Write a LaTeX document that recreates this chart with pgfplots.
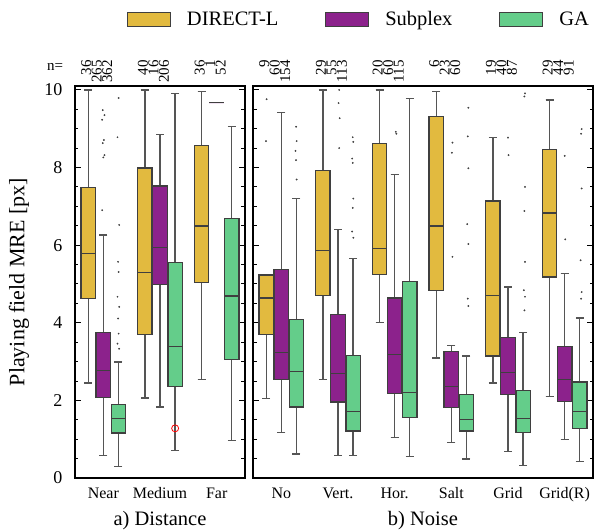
\documentclass[border=0pt]{standalone}
\usepackage{fontspec}
\setmainfont{Liberation Serif}
\usepackage{pgfplots}
\pgfplotsset{compat=1.18}
\usepgfplotslibrary{statistics}

\definecolor{cdir}{HTML}{E2BA3F}
\definecolor{csub}{HTML}{8C228C}
\definecolor{cga}{HTML}{64CD8A}
\definecolor{cedge}{HTML}{3F3F3F}
\definecolor{cwhisk}{HTML}{555555}

\tikzset{nlab/.style={rotate=90, anchor=east, inner sep=0pt, font=\fontsize{15}{15}\selectfont}}

\pgfplotsset{
  mre/.style={
    scale only axis, height=392pt, clip=false,
    ymin=0, ymax=10.1, xmin=-0.5,
    ytick={0,2,...,10}, minor ytick={0,0.5,...,10},
    tick align=inside, ytick pos=both,
    major tick length=6pt, minor tick length=3.5pt,
    every tick/.style={black, line width=0.9pt},
    axis line style={line width=1.3pt},
    xtick style={draw=none},
    /pgf/number format/assume math mode=true,
    yticklabel style={font=\fontsize{18}{18}\selectfont, xshift=-9pt},
    xticklabel style={font=\fontsize{16}{16}\selectfont, anchor=base, yshift=-20pt},
    xlabel style={font=\fontsize{20.5}{20.5}\selectfont, at={(axis description cs:0.5,0)}, anchor=base, yshift=-47pt},
    boxplot/draw direction=y,
    boxplot/box extend=0.255,
    boxplot/whisker extend=0.14,
    boxplot/every box/.style={draw=cedge, line width=1.3pt},
    boxplot/every whisker/.style={cwhisk, line width=1.3pt},
    boxplot/every median/.style={cedge, line width=1.3pt},
  },
  dbox/.style={forget plot, fill=cdir, draw=cedge},
  sbox/.style={forget plot, fill=csub, draw=cedge},
  gbox/.style={forget plot, fill=cga, draw=cedge},
  dots/.style={forget plot, only marks, mark=*, mark size=0.7pt, black!75, mark options={draw=none, fill=black!70}},
}

% a few individual samples that stand clear of the boxes
\pgfplotstableread{
x y
-0.01 9.48
0.02 9.35
-0.02 9.23
0.01 8.71
-0.01 8.63
0.02 8.32
0.00 8.26
-0.02 6.90
0.27 9.79
0.25 8.78
0.28 6.52
0.26 5.57
0.27 5.31
0.25 4.67
0.28 4.41
0.26 4.11
0.27 3.72
0.25 3.46
0.28 3.33
}\dotsdist
\pgfplotstableread{
x y
-0.26 9.76
-0.27 8.68
0.26 9.05
0.27 8.68
0.25 8.43
0.26 8.19
0.27 7.69
1.02 10.0
1.01 9.66
1.03 9.27
1.02 8.50
1.26 8.78
1.27 8.66
1.25 8.23
1.26 8.12
1.27 7.20
1.26 6.96
1.25 6.35
1.27 6.19
2.02 8.92
2.03 8.87
3.02 8.64
3.01 8.38
3.02 5.70
3.30 9.54
3.29 8.80
3.30 7.98
3.28 6.54
3.30 6.03
3.29 4.62
3.30 4.43
4.00 8.77
4.01 8.32
4.30 9.91
4.29 9.83
4.30 7.50
4.29 6.88
4.30 5.57
4.28 4.84
4.30 4.67
4.29 4.32
5.00 8.30
5.01 6.15
5.30 8.99
5.29 8.87
5.30 7.46
5.28 5.61
5.30 4.79
5.29 4.62
}\dotsnoise

\begin{document}
\begin{tikzpicture}
\useasboundingbox (0pt,0pt) rectangle (595pt,-530pt);

% a) Distance
\begin{axis}[mre, at={(75pt,-478pt)}, anchor=south west, width=170pt,
  xmax=2.5, xtick={0,1,2}, xticklabels={Near,Medium,Far},
  xlabel={a) Distance},
  ylabel={Playing field MRE [px]},
  ylabel style={font=\fontsize{22}{22}\selectfont, at={(axis description cs:-0.33,0.5)}, anchor=center},
]
% Near
\addplot[dbox, boxplot prepared={draw position=-0.267, lower whisker=2.45, lower quartile=4.62, median=5.78, upper quartile=7.48, upper whisker=10.0}] coordinates {};
\addplot[sbox, boxplot prepared={draw position=0, lower whisker=0.58, lower quartile=2.07, median=2.77, upper quartile=3.74, upper whisker=6.26}] coordinates {};
\addplot[gbox, boxplot prepared={draw position=0.267, lower whisker=0.30, lower quartile=1.16, median=1.53, upper quartile=1.90, upper whisker=2.99}] coordinates {};
% Medium
\addplot[dbox, boxplot prepared={draw position=0.733, lower whisker=2.06, lower quartile=3.69, median=5.29, upper quartile=7.99, upper whisker=10.0}] coordinates {};
\addplot[sbox, boxplot prepared={draw position=1, lower whisker=1.83, lower quartile=4.99, median=5.93, upper quartile=7.52, upper whisker=8.85}] coordinates {};
\addplot[gbox, boxplot prepared={draw position=1.267, lower whisker=0.71, lower quartile=2.36, median=3.39, upper quartile=5.55, upper whisker=9.91}] coordinates {};
% Far
\addplot[dbox, boxplot prepared={draw position=1.733, lower whisker=2.54, lower quartile=5.04, median=6.49, upper quartile=8.56, upper whisker=9.96}] coordinates {};
\addplot[sbox, boxplot prepared={draw position=2, lower whisker=9.67, lower quartile=9.67, median=9.67, upper quartile=9.67, upper whisker=9.67}] coordinates {};
\addplot[gbox, boxplot prepared={draw position=2.267, lower whisker=0.97, lower quartile=3.06, median=4.69, upper quartile=6.69, upper whisker=9.05}] coordinates {};
\addplot[dots] table {\dotsdist};
% highlighted sample
\addplot[forget plot, only marks, mark=o, red, mark size=3.5pt, line width=0.8pt] coordinates {(1.267,1.28)};

\node[font=\fontsize{15}{15}\selectfont, anchor=center] at ([xshift=-20pt,yshift=19pt]rel axis cs:0,1) {n=};
\foreach \x/\n in {-0.30/36, -0.115/265, 0.07/362, 0.70/40, 0.885/16, 1.07/206, 1.70/36, 1.885/1, 2.07/52}
  {\edef\tmp{\noexpand\node[nlab] at ([yshift=26pt]axis cs:\x,10.1) {\n};}\tmp}
\end{axis}

% b) Noise
\begin{axis}[mre, at={(253pt,-478pt)}, anchor=south west, width=340pt,
  xmax=5.5, xtick={0,...,5}, xticklabels={No,Vert.,Hor.,Salt,Grid,Grid(R)},
  yticklabels={},
  xlabel={b) Noise},
  legend columns=3,
  legend style={at={(-0.3706,1.1709)}, anchor=west, draw=none, fill=none,
    inner sep=0pt, font=\fontsize{20.5}{20.5}\selectfont,
    /tikz/every odd column/.append style={column sep=14pt},
    /tikz/every even column/.append style={column sep=45pt}},
  legend image code/.code={\draw[#1] (0pt,-7pt) rectangle (43pt,7pt);},
]
\addlegendimage{fill=cdir, draw=cedge, line width=0.8pt}
\addlegendentry{DIRECT-L}
\addlegendimage{fill=csub, draw=cedge, line width=0.8pt}
\addlegendentry{Subplex}
\addlegendimage{fill=cga, draw=cedge, line width=0.8pt}
\addlegendentry{GA}
% No
\addplot[dbox, boxplot prepared={draw position=-0.267, lower whisker=2.04, lower quartile=3.69, median=4.64, upper quartile=5.23, upper whisker=5.23}] coordinates {};
\addplot[sbox, boxplot prepared={draw position=0, lower whisker=1.17, lower quartile=2.54, median=3.23, upper quartile=5.38, upper whisker=9.42}] coordinates {};
\addplot[gbox, boxplot prepared={draw position=0.267, lower whisker=0.62, lower quartile=1.83, median=2.75, upper quartile=4.08, upper whisker=7.21}] coordinates {};
% Vert.
\addplot[dbox, boxplot prepared={draw position=0.733, lower whisker=2.53, lower quartile=4.70, median=5.87, upper quartile=7.93, upper whisker=10.0}] coordinates {};
\addplot[sbox, boxplot prepared={draw position=1, lower whisker=0.58, lower quartile=1.96, median=2.69, upper quartile=4.21, upper whisker=6.41}] coordinates {};
\addplot[gbox, boxplot prepared={draw position=1.267, lower whisker=0.58, lower quartile=1.21, median=1.72, upper quartile=3.15, upper whisker=5.66}] coordinates {};
% Hor.
\addplot[dbox, boxplot prepared={draw position=1.733, lower whisker=4.00, lower quartile=5.25, median=5.91, upper quartile=8.62, upper whisker=10.0}] coordinates {};
\addplot[sbox, boxplot prepared={draw position=2, lower whisker=1.04, lower quartile=2.17, median=3.18, upper quartile=4.64, upper whisker=7.82}] coordinates {};
\addplot[gbox, boxplot prepared={draw position=2.267, lower whisker=0.55, lower quartile=1.55, median=2.21, upper quartile=5.07, upper whisker=9.77}] coordinates {};
% Salt
\addplot[dbox, boxplot prepared={draw position=2.733, lower whisker=3.09, lower quartile=4.84, median=6.49, upper quartile=9.31, upper whisker=9.96}] coordinates {};
\addplot[sbox, boxplot prepared={draw position=3, lower whisker=0.92, lower quartile=1.81, median=2.36, upper quartile=3.26, upper whisker=3.42}] coordinates {};
\addplot[gbox, boxplot prepared={draw position=3.267, lower whisker=0.49, lower quartile=1.21, median=1.50, upper quartile=2.15, upper whisker=3.14}] coordinates {};
% Grid
\addplot[dbox, boxplot prepared={draw position=3.733, lower whisker=2.45, lower quartile=3.14, median=4.70, upper quartile=7.14, upper whisker=8.77}] coordinates {};
\addplot[sbox, boxplot prepared={draw position=4, lower whisker=0.69, lower quartile=2.15, median=2.71, upper quartile=3.62, upper whisker=4.92}] coordinates {};
\addplot[gbox, boxplot prepared={draw position=4.267, lower whisker=0.32, lower quartile=1.18, median=1.54, upper quartile=2.26, upper whisker=3.74}] coordinates {};
% Grid(R)
\addplot[dbox, boxplot prepared={draw position=4.733, lower whisker=2.10, lower quartile=5.18, median=6.83, upper quartile=8.47, upper whisker=9.74}] coordinates {};
\addplot[sbox, boxplot prepared={draw position=5, lower whisker=0.99, lower quartile=1.98, median=2.53, upper quartile=3.38, upper whisker=5.27}] coordinates {};
\addplot[gbox, boxplot prepared={draw position=5.267, lower whisker=0.43, lower quartile=1.27, median=1.72, upper quartile=2.47, upper whisker=4.12}] coordinates {};
\addplot[dots] table {\dotsnoise};

\foreach \x/\n in {-0.30/9, -0.115/60, 0.07/154, 0.70/29, 0.885/55, 1.07/113, 1.70/20, 1.885/60, 2.07/115,
                   2.70/6, 2.885/23, 3.07/60, 3.70/19, 3.885/40, 4.07/87, 4.70/29, 4.885/44, 5.07/91}
  {\edef\tmp{\noexpand\node[nlab] at ([yshift=26pt]axis cs:\x,10.1) {\n};}\tmp}
\end{axis}
\end{tikzpicture}
\end{document}
